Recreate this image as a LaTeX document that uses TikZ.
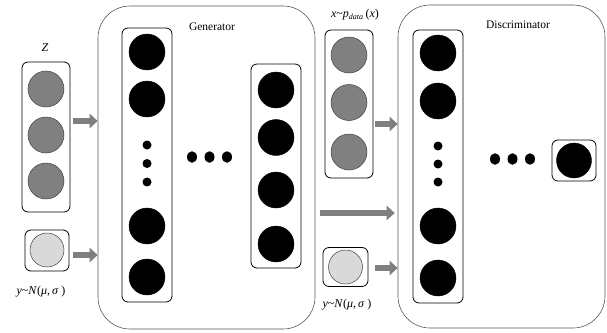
\documentclass[tikz,border=0pt]{standalone}
\usepackage{fontspec}
\setmainfont{Liberation Serif}
\usetikzlibrary{arrows.meta,shapes.geometric}
\definecolor{arrowgray}{HTML}{7F7F7F}
\definecolor{midgray}{HTML}{808080}
\definecolor{lightgray2}{HTML}{D9D9D9}
\definecolor{bordergray}{HTML}{555555}
\begin{document}
\begin{tikzpicture}[x=1pt,y=-1pt,
  bigbox/.style={draw=bordergray, line width=0.6pt, rounded corners=32pt, inner sep=0pt},
  colbox/.style={draw=black, line width=0.8pt, rounded corners=6pt, inner sep=0pt},
  gcirc/.style={circle, draw=black!75, fill=midgray, line width=0.5pt, minimum size=36pt, inner sep=0pt},
  lcirc/.style={circle, draw=black!75, fill=lightgray2, line width=0.5pt, minimum size=34pt, inner sep=0pt},
  bcirc/.style={circle, draw=black, fill=black, minimum size=36pt, inner sep=0pt},
  bdot/.style={circle, fill=black, minimum size=9pt, inner sep=0pt},
  hdot/.style={ellipse, fill=black, minimum width=10pt, minimum height=11.5pt, inner sep=0pt},
  blockarrow/.style={draw=arrowgray, line width=6.5pt, -{Triangle[length=8pt,width=14pt]}},
  title/.style={font=\fontsize{11.5}{13}\selectfont, inner sep=0pt},
  lab/.style={font=\fontsize{12}{14}\selectfont, inner sep=0pt}
]
\useasboundingbox (0,0) rectangle (607,332);

% big boxes
\node[bigbox, minimum width=217pt, minimum height=323pt] (gen) at (206.5,167.5) {};
\node[bigbox, minimum width=207pt, minimum height=323pt] (disc) at (501.5,166.5) {};
\node[title] (gentitle) at (212,27) {Generator};
\node[title] (disctitle) at (518,25) {Discriminator};

% Z input
\node[colbox, minimum width=48pt, minimum height=150pt] (zbox) at (46,137) {};
\node[gcirc] (z1) at (46,89) {};
\node[gcirc] (z2) at (46,135) {};
\node[gcirc] (z3) at (46,181) {};
\node[lab] (zlab) at (45,48) {\textit{Z}};

% y input (generator)
\node[colbox, minimum width=44pt, minimum height=41pt] (ybox) at (47,250.5) {};
\node[lcirc] (y1) at (47,250) {};
\node[lab] (ylab) at (41,292) {\textit{y}\textasciitilde\textit{N}(\textit{μ},\,\textit{σ} )};

% generator column 1
\node[colbox, minimum width=50pt, minimum height=274pt] (gc1) at (147,165) {};
\node[bcirc] (g11) at (147,52) {};
\node[bcirc] (g12) at (147,99) {};
\node[bdot] (g1d1) at (147,145) {};
\node[bdot] (g1d2) at (147,163.5) {};
\node[bdot] (g1d3) at (147,182) {};
\node[bcirc] (g14) at (147,226) {};
\node[bcirc] (g15) at (147,277) {};

% generator horizontal dots
\node[hdot] (gh1) at (192,157) {};
\node[hdot] (gh2) at (209.5,157) {};
\node[hdot] (gh3) at (227,157) {};

% generator column 2
\node[colbox, minimum width=50pt, minimum height=204pt] (gc2) at (276,166) {};
\node[bcirc] (g21) at (276,90) {};
\node[bcirc] (g22) at (276,137.5) {};
\node[bcirc] (g23) at (276,190) {};
\node[bcirc] (g24) at (276,244) {};

% x input
\node[colbox, minimum width=48pt, minimum height=148pt] (xbox) at (349,104) {};
\node[gcirc] (x1) at (349,55) {};
\node[gcirc] (x2) at (349,102.5) {};
\node[gcirc] (x3) at (349,152) {};
\node[lab] (xlab) at (355,15) {\textit{x}\textasciitilde\textit{p}\textsubscript{\textit{data}}\,(\textit{x})};

% y input (discriminator)
\node[colbox, minimum width=45pt, minimum height=39pt] (ybox2) at (345.5,267) {};
\node[lcirc] (y2) at (345.5,267) {};
\node[lab] (ylab2) at (347,305) {\textit{y}\textasciitilde\textit{N}(\textit{μ},\,\textit{σ} )};

% discriminator column
\node[colbox, minimum width=50pt, minimum height=273pt] (dc) at (438,166.5) {};
\node[bcirc] (d1) at (438,53) {};
\node[bcirc] (d2) at (438,101) {};
\node[bdot] (dd1) at (438,146) {};
\node[bdot] (dd2) at (438,164) {};
\node[bdot] (dd3) at (438,182) {};
\node[bcirc] (d4) at (438,226) {};
\node[bcirc] (d5) at (438,278) {};

% discriminator horizontal dots
\node[hdot] (dh1) at (495,159) {};
\node[hdot] (dh2) at (512.5,159) {};
\node[hdot] (dh3) at (530,159) {};

% output
\node[colbox, minimum width=44pt, minimum height=41pt] (obox) at (574,160.5) {};
\node[bcirc, minimum size=35pt] (o1) at (574,160.5) {};

% arrows
\coordinate (a1) at (73,121);
\coordinate (a2) at (73,255);
\coordinate (a3) at (375,124);
\coordinate (a4) at (320,213);
\coordinate (a5) at (375,268);
\draw[blockarrow] (a1) -- (a1 -| gen.west);
\draw[blockarrow] (a2) -- (a2 -| gen.west);
\draw[blockarrow] (a3) -- (a3 -| disc.west);
\draw[blockarrow] (a4) -- ([xshift=-3pt]a4 -| disc.west);
\draw[blockarrow] (a5) -- (a5 -| disc.west);
\end{tikzpicture}
\end{document}
